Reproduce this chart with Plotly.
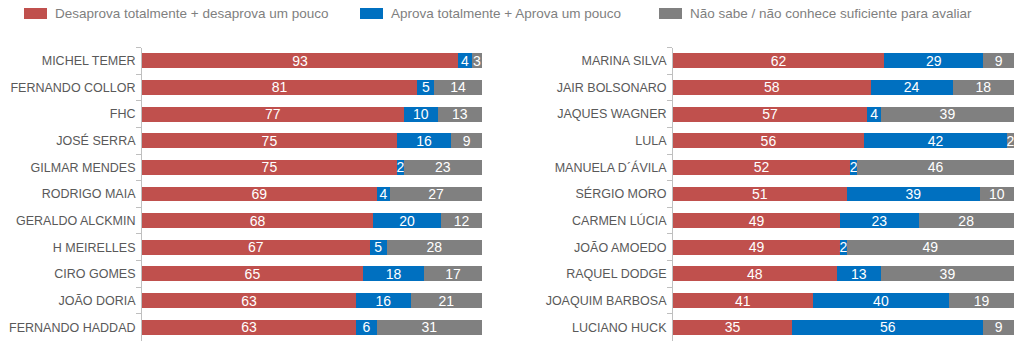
import plotly.graph_objects as go

names_left = ["MICHEL TEMER", "FERNANDO COLLOR", "FHC", "JOSÉ SERRA", "GILMAR MENDES",
              "RODRIGO MAIA", "GERALDO ALCKMIN", "H MEIRELLES", "CIRO GOMES",
              "JOÃO DORIA", "FERNANDO HADDAD"]
des_left = [93, 81, 77, 75, 75, 69, 68, 67, 65, 63, 63]
apr_left = [4, 5, 10, 16, 2, 4, 20, 5, 18, 16, 6]
ns_left = [3, 14, 13, 9, 23, 27, 12, 28, 17, 21, 31]

names_right = ["MARINA SILVA", "JAIR BOLSONARO", "JAQUES WAGNER", "LULA", "MANUELA D´ÁVILA",
               "SÉRGIO MORO", "CARMEN LÚCIA", "JOÃO AMOEDO", "RAQUEL DODGE",
               "JOAQUIM BARBOSA", "LUCIANO HUCK"]
des_right = [62, 58, 57, 56, 52, 51, 49, 49, 48, 41, 35]
apr_right = [29, 24, 4, 42, 2, 39, 23, 2, 13, 40, 56]
ns_right = [9, 18, 39, 2, 46, 10, 28, 49, 39, 19, 9]

series_names = ["Desaprova totalmente + desaprova um pouco",
                "Aprova totalmente + Aprova um pouco",
                "Não sabe / não conhece suficiente para avaliar"]
colors = ["#C0504D", "#0070C0", "#808080"]

FONT = "Liberation Sans"
W, H = 1024, 346

fig = go.Figure()
for (names, vals, xa, ya) in [
    (names_left, [des_left, apr_left, ns_left], "x", "y"),
    (names_right, [des_right, apr_right, ns_right], "x2", "y2"),
]:
    for i, v in enumerate(vals):
        fig.add_trace(go.Bar(
            y=names, x=v, orientation="h", name=series_names[i],
            marker=dict(color=colors[i], line=dict(width=0)),
            text=[str(t) for t in v], textposition="inside",
            insidetextanchor="middle", textangle=0,
            textfont=dict(family=FONT, size=14, color="white"),
            xaxis=xa, yaxis=ya, showlegend=False, cliponaxis=False,
        ))

ydom = [1 - 340.5 / H, 1 - 47.5 / H]
axis_y = dict(autorange="reversed", showline=True, linecolor="#BFBFBF", linewidth=1,
              ticks="outside", tickson="boundaries", ticklen=5, tickcolor="#BFBFBF",
              tickfont=dict(family=FONT, size=12.5, color="#595959"),
              showgrid=False, zeroline=False, domain=ydom, ticklabelstandoff=3)
axis_x = dict(range=[0, 100], visible=False, showgrid=False, zeroline=False)

fig.update_layout(
    width=W, height=H, margin=dict(l=0, r=0, t=0, b=0),
    barmode="stack", bargap=0.44,
    paper_bgcolor="white", plot_bgcolor="white",
    uniformtext=dict(minsize=14, mode="show"),
    xaxis=dict(axis_x, domain=[142 / W, 482 / W]),
    xaxis2=dict(axis_x, domain=[673 / W, 1014 / W]),
    yaxis=dict(axis_y, anchor="x"),
    yaxis2=dict(axis_y, anchor="x2"),
)

# Manual legend
leg_x = [24, 360, 659]
for i in range(3):
    x0 = leg_x[i]
    fig.add_shape(type="rect", xref="paper", yref="paper",
                  x0=x0 / W, x1=(x0 + 23) / W, y0=1 - 19 / H, y1=1 - 8 / H,
                  fillcolor=colors[i], line=dict(width=0))
    fig.add_annotation(xref="paper", yref="paper", x=(x0 + 29) / W, y=1 - 13.5 / H,
                       text=series_names[i], showarrow=False, xanchor="left",
                       yanchor="middle",
                       font=dict(family=FONT, size=13.5, color="#7F7F7F"))

fig.write_html("out.html")
